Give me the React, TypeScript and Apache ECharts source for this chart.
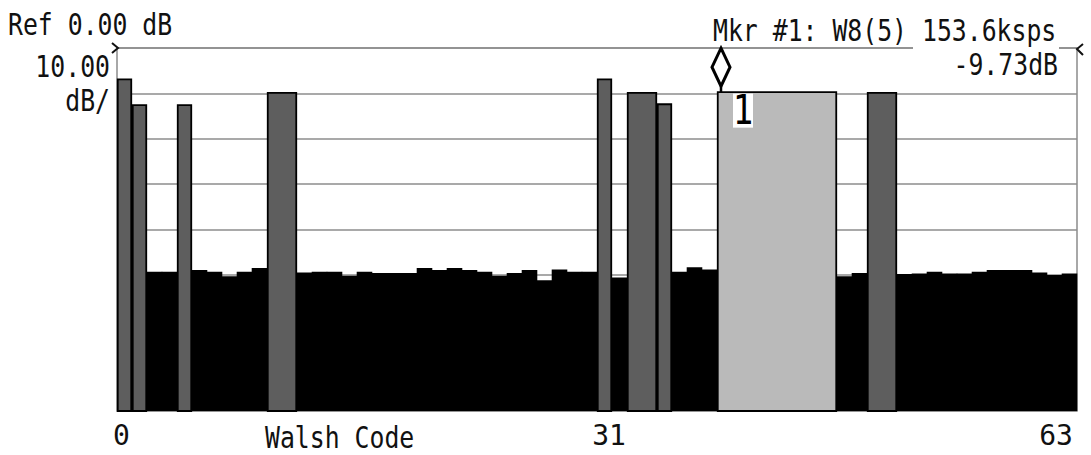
import React, { useEffect, useRef } from "react";
import * as echarts from "echarts";

// ---- data ----
const codeCount = 64;
const refLevel = 0; // dB
const dbPerDiv = 10;
const divisions = 8;

// active channels: first Walsh code (of 64), width in codes, power (dB)
const channelStart = [0, 1, 4, 10, 32, 34, 36, 40, 50];
const channelWidth = [1, 1, 1, 2, 1, 2, 1, 8, 2];
const channelPower = [-6.9, -12.6, -12.6, -9.9, -6.9, -9.9, -12.4, -9.73, -9.9];
const markedChannel = 7;
const markerText = "Mkr #1: W8(5) 153.6ksps";

// inactive codes (noise floor)
const noiseCodes = [
  2, 3, 5, 6, 7, 8, 9, 12, 13, 14, 15, 16, 17, 18, 19, 20, 21, 22, 23, 24, 25, 26, 27, 28, 29, 30, 31,
  33, 37, 38, 39, 48, 49, 52, 53, 54, 55, 56, 57, 58, 59, 60, 61, 62, 63,
];
const noisePower = [
  -49.3, -49.3, -48.9, -49.3, -50.3, -49.3, -48.5, -49.5, -49.3, -49.3, -50.2, -49.3, -49.6, -49.6,
  -49.6, -48.5, -48.9, -48.5, -48.9, -49.3, -50.2, -49.6, -48.9, -51.2, -48.8, -49.3, -49.3,
  -50.6, -49.3, -48.3, -48.8, -50.3, -49.6, -49.8, -49.7, -49.3, -49.7, -49.7, -49.3, -48.9, -48.9,
  -48.9, -49.5, -50.0, -49.7,
];

// x tick labels and their positions on the code axis
const tickLabels = ["0", "31", "63"];
const tickPositions = [0.3, 32.8, 62.6];

const FONT = "DejaVu Sans Mono";

export default function App() {
  const ref = useRef<HTMLDivElement>(null);
  useEffect(() => {
    document.body.style.margin = "0";
    const chart = echarts.init(ref.current!, null, { renderer: "svg" });
    const yMin = refLevel - dbPerDiv * divisions;

    const noiseData = noiseCodes.map((c, i) => [c, noisePower[i]]);
    const chanData = channelStart.map((s, i) => [s, s + channelWidth[i], channelPower[i], i === markedChannel ? 1 : 0]);
    const markerData = [[channelStart[markedChannel], channelPower[markedChannel]]];

    const option: any = {
      animation: false,
      backgroundColor: "#ffffff",
      grid: {
        left: 117,
        top: 48,
        width: 960,
        height: 363,
        show: true,
        borderColor: "#8c8c8c",
        borderWidth: 1.5,
      },
      xAxis: {
        type: "value",
        min: 0,
        max: codeCount,
        splitLine: { show: false },
        axisLine: { show: false },
        axisTick: { show: false },
        axisLabel: {
          customValues: tickPositions,
          formatter: (v: number) => {
            let best = 0;
            tickPositions.forEach((p, i) => {
              if (Math.abs(p - v) < Math.abs(tickPositions[best] - v)) best = i;
            });
            return tickLabels[best];
          },
          fontFamily: FONT,
          fontSize: 28,
          color: "#111",
          margin: 10,
        },
      },
      yAxis: {
        type: "value",
        min: yMin,
        max: refLevel,
        interval: dbPerDiv,
        axisLine: { show: false },
        axisTick: { show: false },
        axisLabel: { show: false },
        splitLine: { show: true, lineStyle: { color: "#8c8c8c", width: 1.5 } },
      },
      series: [
        {
          type: "custom",
          name: "noise",
          data: noiseData,
          encode: { x: [0], y: [1] },
          z: 2,
          renderItem: (params: any, api: any) => {
            const c = api.value(0);
            const p = api.value(1);
            const tl = api.coord([c, p]);
            const br = api.coord([c + 1, yMin]);
            return {
              type: "rect",
              shape: { x: tl[0] - 0.3, y: tl[1], width: br[0] - tl[0] + 0.6, height: br[1] - tl[1] },
              style: { fill: "#000000" },
            };
          },
        },
        {
          type: "custom",
          name: "channels",
          data: chanData,
          encode: { x: [0, 1], y: [2] },
          z: 3,
          renderItem: (params: any, api: any) => {
            const s = api.value(0);
            const e = api.value(1);
            const p = api.value(2);
            const marked = api.value(3) === 1;
            const tl = api.coord([s, p]);
            const br = api.coord([e, yMin]);
            return {
              type: "rect",
              shape: { x: tl[0] + 0.75, y: tl[1], width: br[0] - tl[0] - 1.5, height: br[1] - tl[1] },
              style: { fill: marked ? "#bababa" : "#5e5e5e", stroke: "#000000", lineWidth: 1.8 },
            };
          },
        },
        {
          type: "custom",
          name: "marker",
          data: markerData,
          encode: { x: [0], y: [1] },
          z: 5,
          renderItem: (params: any, api: any) => {
            const c = api.coord([api.value(0), api.value(1)]);
            const cx = c[0] + 4;
            const top = c[1];
            return {
              type: "group",
              children: [
                {
                  type: "line",
                  shape: { x1: cx, y1: top - 6, x2: cx, y2: top },
                  style: { stroke: "#000", lineWidth: 2.5 },
                },
                {
                  type: "polygon",
                  shape: {
                    points: [
                      [cx, top - 44],
                      [cx + 9, top - 25],
                      [cx, top - 6],
                      [cx - 9, top - 25],
                    ],
                  },
                  style: { fill: "#fff", stroke: "#000", lineWidth: 3 },
                },
                {
                  type: "rect",
                  shape: { x: cx + 12, y: top + 1.5, width: 20, height: 34 },
                  style: { fill: "#fff" },
                },
                {
                  type: "text",
                  x: cx + 22,
                  y: top + 18,
                  scaleX: 0.85,
                  style: {
                    text: "1",
                    font: `40px "${FONT}"`,
                    fill: "#000",
                    textAlign: "center",
                    textVerticalAlign: "middle",
                  },
                },
              ],
            };
          },
        },
      ],
      graphic: [
        {
          type: "rect",
          z: 100,
          shape: { x: 913, y: 43, width: 146, height: 39 },
          style: { fill: "#fff" },
        },
        {
          type: "text",
          z: 101,
          x: 8,
          y: 25,
          scaleX: 0.8,
          style: { text: `Ref ${refLevel.toFixed(2)} dB`, font: `31px "${FONT}"`, fill: "#111", textAlign: "left", textVerticalAlign: "middle" },
        },
        {
          type: "text",
          z: 101,
          x: 110,
          y: 67,
          scaleX: 0.8,
          style: { text: dbPerDiv.toFixed(2), font: `31px "${FONT}"`, fill: "#111", textAlign: "right", textVerticalAlign: "middle" },
        },
        {
          type: "text",
          z: 101,
          x: 110,
          y: 101,
          scaleX: 0.8,
          style: { text: "dB/", font: `31px "${FONT}"`, fill: "#111", textAlign: "right", textVerticalAlign: "middle" },
        },
        {
          type: "text",
          z: 101,
          x: 713,
          y: 31,
          scaleX: 0.8,
          style: { text: markerText, font: `31px "${FONT}"`, fill: "#111", textAlign: "left", textVerticalAlign: "middle" },
        },
        {
          type: "text",
          z: 101,
          x: 1058,
          y: 65,
          scaleX: 0.8,
          style: {
            text: `${channelPower[markedChannel].toFixed(2)}dB`,
            font: `31px "${FONT}"`,
            fill: "#111",
            textAlign: "right",
            textVerticalAlign: "middle",
          },
        },
        {
          type: "text",
          z: 101,
          x: 265,
          y: 438,
          scaleX: 0.8,
          style: { text: "Walsh Code", font: `31px "${FONT}"`, fill: "#111", textAlign: "left", textVerticalAlign: "middle" },
        },
        {
          type: "polyline",
          z: 101,
          shape: { points: [[112, 43], [118, 48], [112, 53]] },
          style: { stroke: "#111", lineWidth: 2, fill: null },
        },
        {
          type: "polyline",
          z: 101,
          shape: { points: [[1083, 44], [1077, 49], [1083, 55]] },
          style: { stroke: "#111", lineWidth: 2, fill: null },
        },
      ],
    };
    chart.setOption(option);
    return () => chart.dispose();
  }, []);
  return (
    <div
      ref={ref}
      style={{ position: "absolute", left: 0, top: 0, width: 1091, height: 455, background: "#fff" }}
    />
  );
}
